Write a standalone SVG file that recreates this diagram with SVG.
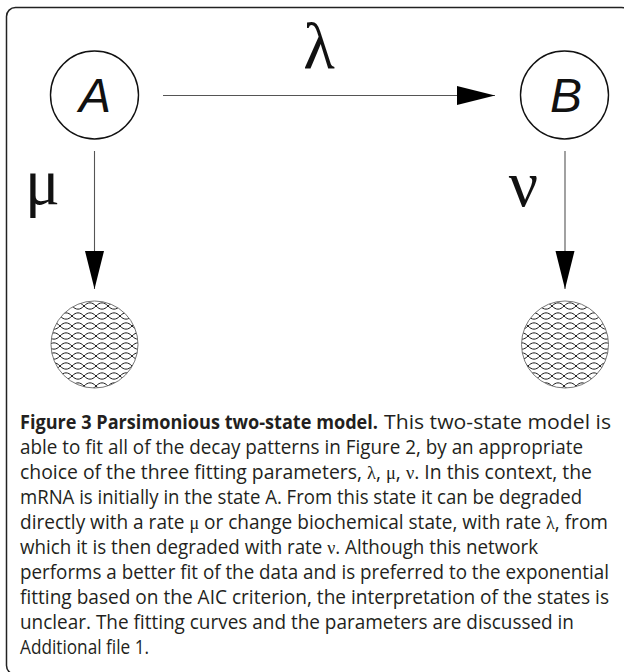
<svg xmlns="http://www.w3.org/2000/svg" width="624" height="672" viewBox="0 0 624 672">
<style>
.frame{fill:none;stroke:#222;stroke-width:1.5}
.state{fill:#fff;stroke:#111;stroke-width:1.4}
.slabel{font-family:"Liberation Sans",Arial,sans-serif;font-style:italic;font-size:48px;fill:#111;text-anchor:middle}
.greek{font-family:"Liberation Serif","Times New Roman",serif;font-size:65px;fill:#111;text-anchor:middle}
.conn{stroke:#555;stroke-width:1.1;fill:none}
.sink{fill:url(#hatch);stroke:#666;stroke-width:0.9}
.cap{font-family:"Open Sans","Noto Sans",sans-serif;font-size:19.5px;fill:#231f20}
.b{font-weight:bold}
.g{font-family:"Liberation Serif","Times New Roman",serif;font-size:18.5px}
</style>
<defs>
<marker id="arr" markerUnits="userSpaceOnUse" markerWidth="40" markerHeight="20" refX="38" refY="9.5" orient="auto">
<path d="M0,0 L38,9.5 L0,19 Z" fill="#000"/>
</marker>
<pattern id="hatch" patternUnits="userSpaceOnUse" x="0" y="1" width="24" height="10">
<rect width="24" height="10" fill="#fff"/>
<path d="M0,5 C4,0.8 8,0.8 12,5 S20,9.2 24,5" fill="none" stroke="#111" stroke-width="0.95"/>
<path d="M0,5 C4,9.2 8,9.2 12,5 S20,0.8 24,5" fill="none" stroke="#111" stroke-width="0.95"/>
</pattern>
</defs>
<rect class="frame" x="6.5" y="7.5" width="624" height="667" rx="9"/>
<g id="connectors">
<line class="conn" x1="163" y1="95.5" x2="495" y2="95.5" marker-end="url(#arr)"/>
<line class="conn" x1="94.5" y1="151" x2="94.5" y2="289" marker-end="url(#arr)"/>
<line class="conn" x1="565" y1="151" x2="565" y2="289" marker-end="url(#arr)"/>
<text class="greek" x="319" y="68">λ</text>
<text class="greek" x="42.5" y="204">μ</text>
<text class="greek" x="523.5" y="206">ν</text>
</g>
<g id="nodeA">
<circle class="state" cx="94.5" cy="95" r="44"/>
<text class="slabel" x="95" y="112">A</text>
</g>
<g id="nodeB">
<circle class="state" cx="564.5" cy="95" r="44"/>
<text class="slabel" x="566" y="112">B</text>
</g>
<g id="sinkA">
<circle class="sink" cx="94.5" cy="344.5" r="43.5"/>
</g>
<g id="sinkB">
<circle class="sink" cx="565" cy="344.5" r="43.5"/>
</g>
<g id="caption" class="cap">
<text class="b" x="20" y="428.5" textLength="358" lengthAdjust="spacingAndGlyphs">Figure 3 Parsimonious two-state model.</text>
<text x="384" y="428.5" textLength="227" lengthAdjust="spacingAndGlyphs">This two-state model is</text>
<text x="20" y="453.5" textLength="563" lengthAdjust="spacingAndGlyphs">able to fit all of the decay patterns in Figure 2, by an appropriate</text>
<text x="20" y="478.5" textLength="572" lengthAdjust="spacingAndGlyphs">choice of the three fitting parameters, <tspan class="g">λ</tspan>, <tspan class="g">μ</tspan>, <tspan class="g">ν</tspan>. In this context, the</text>
<text x="20" y="503.5" textLength="562" lengthAdjust="spacingAndGlyphs">mRNA is initially in the state A. From this state it can be degraded</text>
<text x="20" y="528.5" textLength="588" lengthAdjust="spacingAndGlyphs">directly with a rate <tspan class="g">μ</tspan> or change biochemical state, with rate <tspan class="g">λ</tspan>, from</text>
<text x="20" y="553.5" textLength="518" lengthAdjust="spacingAndGlyphs">which it is then degraded with rate <tspan class="g">ν</tspan>. Although this network</text>
<text x="20" y="578.5" textLength="589" lengthAdjust="spacingAndGlyphs">performs a better fit of the data and is preferred to the exponential</text>
<text x="20" y="603.5" textLength="589" lengthAdjust="spacingAndGlyphs">fitting based on the AIC criterion, the interpretation of the states is</text>
<text x="20" y="628.5" textLength="554" lengthAdjust="spacingAndGlyphs">unclear. The fitting curves and the parameters are discussed in</text>
<text x="20" y="653.5" textLength="129" lengthAdjust="spacingAndGlyphs">Additional file 1.</text>
</g>
</svg>
